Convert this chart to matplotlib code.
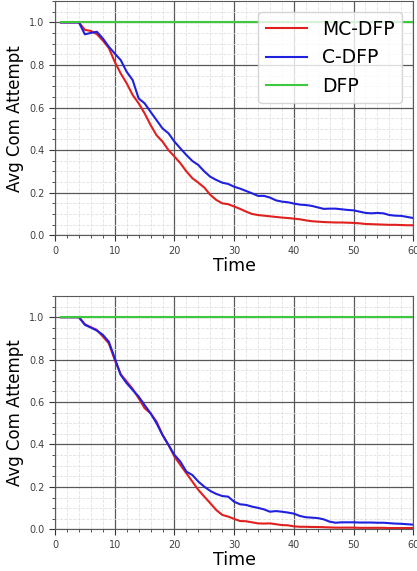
import matplotlib
matplotlib.use("Agg")
import matplotlib.pyplot as plt
from matplotlib.ticker import MultipleLocator
import numpy as np

# time steps
time = np.arange(1, 61)

# top panel
mc_dfp_top = [1.0, 1.0, 1.0, 1.0, 0.965, 0.96, 0.945, 0.915, 0.88, 0.815,
              0.76, 0.714, 0.659, 0.62, 0.573, 0.518, 0.47, 0.44, 0.40, 0.37,
              0.338, 0.30, 0.268, 0.247, 0.224, 0.19, 0.166, 0.15, 0.146, 0.135,
              0.124, 0.111, 0.10, 0.095, 0.092, 0.089, 0.086, 0.083, 0.081, 0.078,
              0.075, 0.070, 0.066, 0.064, 0.062, 0.061, 0.060, 0.060, 0.059, 0.058,
              0.056, 0.053, 0.052, 0.051, 0.050, 0.049, 0.049, 0.048, 0.047, 0.047]
c_dfp_top = [1.0, 1.0, 1.0, 1.0, 0.944, 0.951, 0.956, 0.925, 0.886, 0.854,
             0.823, 0.768, 0.729, 0.643, 0.62, 0.58, 0.541, 0.502, 0.479, 0.44,
             0.408, 0.377, 0.349, 0.33, 0.30, 0.275, 0.26, 0.247, 0.241, 0.228,
             0.219, 0.208, 0.197, 0.185, 0.185, 0.177, 0.164, 0.158, 0.155, 0.149,
             0.144, 0.142, 0.138, 0.131, 0.124, 0.125, 0.125, 0.122, 0.119, 0.117,
             0.111, 0.105, 0.103, 0.105, 0.103, 0.095, 0.092, 0.091, 0.086, 0.081]

# bottom panel
mc_dfp_bot = [1.0, 1.0, 1.0, 1.0, 0.967, 0.953, 0.94, 0.909, 0.877, 0.799,
              0.731, 0.697, 0.662, 0.618, 0.571, 0.547, 0.508, 0.445, 0.398, 0.343,
              0.303, 0.264, 0.225, 0.186, 0.154, 0.123, 0.091, 0.068, 0.06, 0.049,
              0.039, 0.038, 0.033, 0.028, 0.027, 0.028, 0.024, 0.02, 0.019, 0.014,
              0.012, 0.012, 0.011, 0.011, 0.010, 0.009, 0.008, 0.008, 0.008, 0.008,
              0.007, 0.007, 0.007, 0.007, 0.007, 0.006, 0.006, 0.006, 0.006, 0.006]
c_dfp_bot = [1.0, 1.0, 1.0, 1.0, 0.964, 0.951, 0.937, 0.917, 0.885, 0.807,
             0.728, 0.689, 0.657, 0.626, 0.586, 0.547, 0.50, 0.445, 0.398, 0.351,
             0.319, 0.272, 0.256, 0.225, 0.201, 0.181, 0.167, 0.157, 0.154, 0.13,
             0.118, 0.115, 0.107, 0.101, 0.094, 0.083, 0.086, 0.083, 0.079, 0.074,
             0.063, 0.057, 0.055, 0.053, 0.047, 0.036, 0.031, 0.033, 0.033, 0.033,
             0.032, 0.032, 0.032, 0.031, 0.031, 0.029, 0.027, 0.026, 0.024, 0.022]

dfp = [1.0] * 60

red = "#e0201e"
blue = "#2020e0"
green = "#3ec83e"

fig = plt.figure(figsize=(4.17, 5.71), dpi=100)
ax1 = fig.add_axes([0.132, 0.588, 0.859, 0.410])
ax2 = fig.add_axes([0.132, 0.073, 0.859, 0.4086])

for ax, mc, c in [(ax1, mc_dfp_top, c_dfp_top), (ax2, mc_dfp_bot, c_dfp_bot)]:
    ax.plot(time, mc, color=red, lw=1.5, label="MC-DFP")
    ax.plot(time, c, color=blue, lw=1.5, label="C-DFP")
    ax.plot(time, dfp, color=green, lw=1.5, label="DFP")
    ax.set_xlim(0, 60)
    ax.set_ylim(0, 1.1)
    ax.set_yticks([0.0, 0.2, 0.4, 0.6, 0.8, 1.0])
    ax.xaxis.set_minor_locator(MultipleLocator(2))
    ax.yaxis.set_minor_locator(MultipleLocator(0.05))
    ax.grid(which="major", color="0.35", lw=0.9)
    ax.grid(which="minor", color="0.88", lw=0.6, ls="--")
    ax.set_axisbelow(True)
    ax.tick_params(which="major", labelsize=7, labelcolor="0.25", length=4, color="0.2")
    ax.tick_params(which="minor", length=2, color="0.2")
    for s in ax.spines.values():
        s.set_color("0.35")
    ax.set_xlabel("Time", fontsize=12.5, labelpad=1)
    ax.set_ylabel("Avg Com Attempt", fontsize=12)

leg = ax1.legend(loc="upper right", fontsize=13.5, handlelength=2.2,
                 borderaxespad=0.6)

fig.savefig("out.png", dpi=100)
